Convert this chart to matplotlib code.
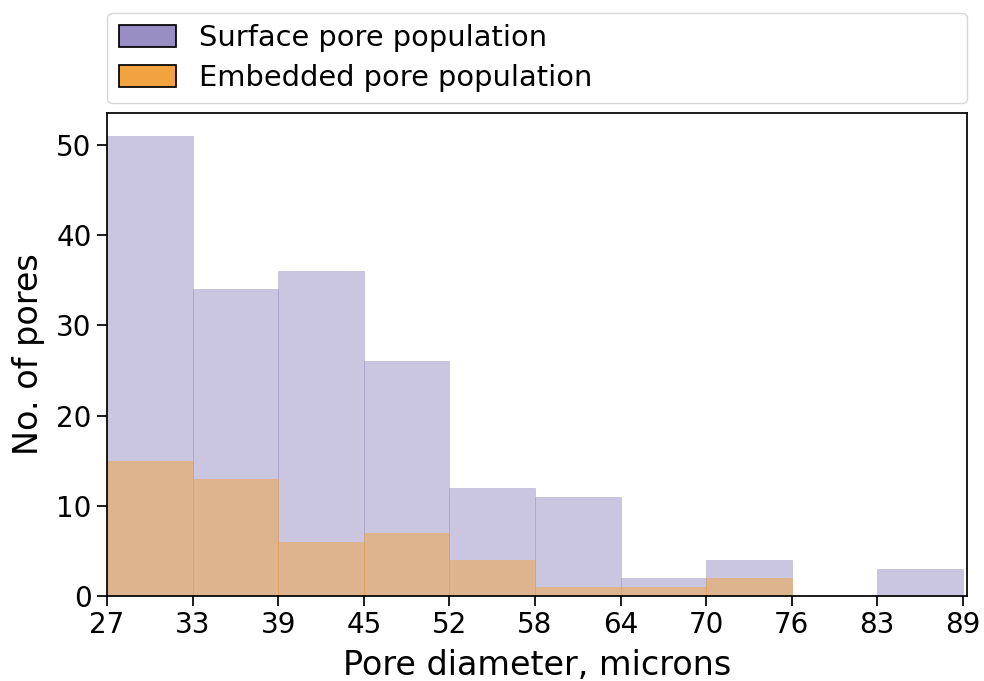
import matplotlib
matplotlib.use("Agg")
import matplotlib.pyplot as plt
from matplotlib.patches import Patch
import numpy as np

bin_edges = [27.3, 33.5, 39.7, 45.9, 52.1, 58.3, 64.5, 70.7, 76.9, 83.1, 89.3]
tick_labels = ["27", "33", "39", "45", "52", "58", "64", "70", "76", "83", "89"]
surface_counts = [51, 34, 36, 26, 12, 11, 2, 4, 0, 3]
embedded_counts = [15, 13, 6, 7, 4, 1, 1, 2, 0, 0]

purple = "#998ec3"
orange = "#f1a340"

plt.rcParams['font.family'] = ['DejaVu Sans']
fig = plt.figure(figsize=(9.84, 6.81), dpi=100)
ax = fig.add_axes([107/984, 1-596/681, (967-107)/984, (596-113)/681])

edges = np.array(bin_edges)
widths = np.diff(edges)
ax.bar(edges[:-1], surface_counts, width=widths, align='edge', color=purple,
       alpha=0.5, edgecolor=purple, linewidth=0.5)
ax.bar(edges[:-1], embedded_counts, width=widths, align='edge', color=orange,
       alpha=0.5, edgecolor=orange, linewidth=0.5)

ax.set_xlim(edges[0], edges[-1] + 0.3)
ax.set_ylim(0, max(surface_counts) * 1.05)
ax.set_xticks(edges)
ax.set_xticklabels(tick_labels)
ax.set_yticks([0, 10, 20, 30, 40, 50])
ax.tick_params(labelsize=20, length=7.5, width=1.25)
for s in ax.spines.values():
    s.set_linewidth(1.25)
ax.set_xlabel("Pore diameter, microns", fontsize=24, labelpad=7)
ax.set_ylabel("No. of pores", fontsize=24, labelpad=8)

handles = [Patch(facecolor=purple, edgecolor='black', linewidth=1.25, label="Surface pore population"),
           Patch(facecolor=orange, edgecolor='black', linewidth=1.25, label="Embedded pore population")]
leg = ax.legend(handles=handles, loc='lower left', bbox_to_anchor=(0, 1.02, 1, 0.2),
                mode='expand', fontsize=20.8, borderaxespad=0, framealpha=0.8,
                handlelength=2.0, handleheight=0.8, labelspacing=0.4)
leg.get_frame().set_edgecolor('#cccccc')

fig.savefig("out.png", dpi=100)
